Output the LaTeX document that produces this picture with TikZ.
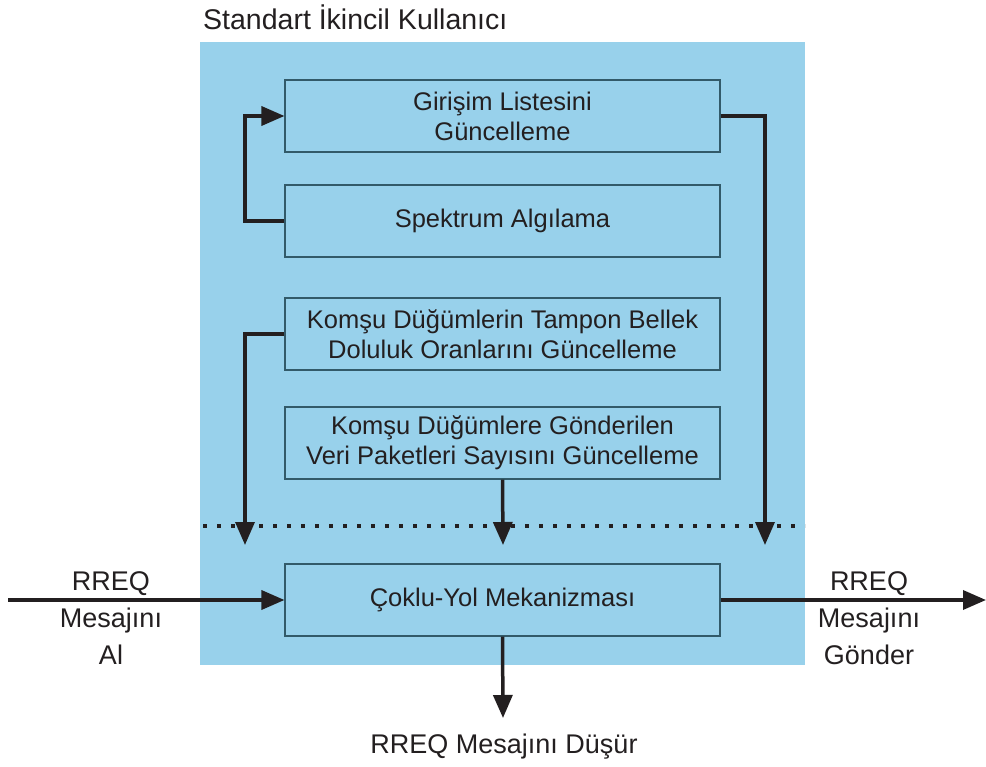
\documentclass[tikz,border=0pt]{standalone}
\usepackage{fontspec}
\setmainfont{Liberation Sans}
\usetikzlibrary{arrows.meta}
\definecolor{panelblue}{RGB}{152,209,235}
\definecolor{boxline}{RGB}{50,90,105}
\definecolor{ink}{RGB}{35,31,32}
\tikzset{
  stagebox/.style={draw=boxline, line width=1.1pt, minimum width=435pt, minimum height=72pt,
    align=center, font=\fontsize{25.5}{30}\selectfont, text=ink, inner sep=0pt},
  flow/.style={draw=ink, line width=3.5pt, -{Triangle[length=23pt,width=19pt]}},
  lbl/.style={font=\fontsize{27}{37}\selectfont, text=ink, align=center, inner sep=0pt}
}
\begin{document}
\begin{tikzpicture}[x=1pt,y=-1pt]
\useasboundingbox (0,0) rectangle (986,767);
% secondary user panel
\fill[panelblue] (200,42) rectangle (805,665);
\node[lbl, anchor=west, font=\fontsize{28.5}{34}\selectfont] (title) at (203,17) {Standart İkincil Kullanıcı};

% processing stages
\node[stagebox] (gir) at (502.5,116) {Girişim Listesini\\Güncelleme};
\node[stagebox] (spk) at (502.5,221) {Spektrum Algılama};
\node[stagebox] (tmp) at (502.5,334) {Komşu Düğümlerin Tampon Bellek\\Doluluk Oranlarını Güncelleme};
\node[stagebox] (vpk) at (502.5,443) {Komşu Düğümlere Gönderilen\\Veri Paketleri Sayısını Güncelleme};
\node[stagebox] (ckl) at (502.5,600) {Çoklu-Yol Mekanizması};

% separator
\draw[ink, line width=4pt, dash pattern=on 4pt off 10pt] (203,526) -- (805,526);

% arrow end points just below the separator
\coordinate (lEnd) at (245,545);
\coordinate (mEnd) at (503,545);
\coordinate (rEnd) at (765,545);

% feedback loop: sensing updates the interference list
\draw[flow] (spk.west) -- (245,221) -- (245,116) -- (gir.west);
% updates feeding the multipath mechanism
\draw[flow] (gir.east) -- (765,116) -- (rEnd);
\draw[flow] (tmp.west) -- (245,334) -- (lEnd);
\draw[flow] (vpk.south) -- (mEnd);

% RREQ in / out / drop
\coordinate (inStart) at (8,600);
\coordinate (outEnd) at (986,600);
\coordinate (dropEnd) at (503,718);
\draw[flow] (inStart) -- (ckl.west);
\draw[flow] (ckl.east) -- (outEnd);
\draw[flow] (ckl.south) -- (dropEnd);

\node[lbl] (inL) at (111,618) {RREQ\\Mesajını\\Al};
\node[lbl] (outL) at (869,618) {RREQ\\Mesajını\\Gönder};
\node[lbl] (dropL) at (504,747) {RREQ Mesajını Düşür};
\end{tikzpicture}
\end{document}
